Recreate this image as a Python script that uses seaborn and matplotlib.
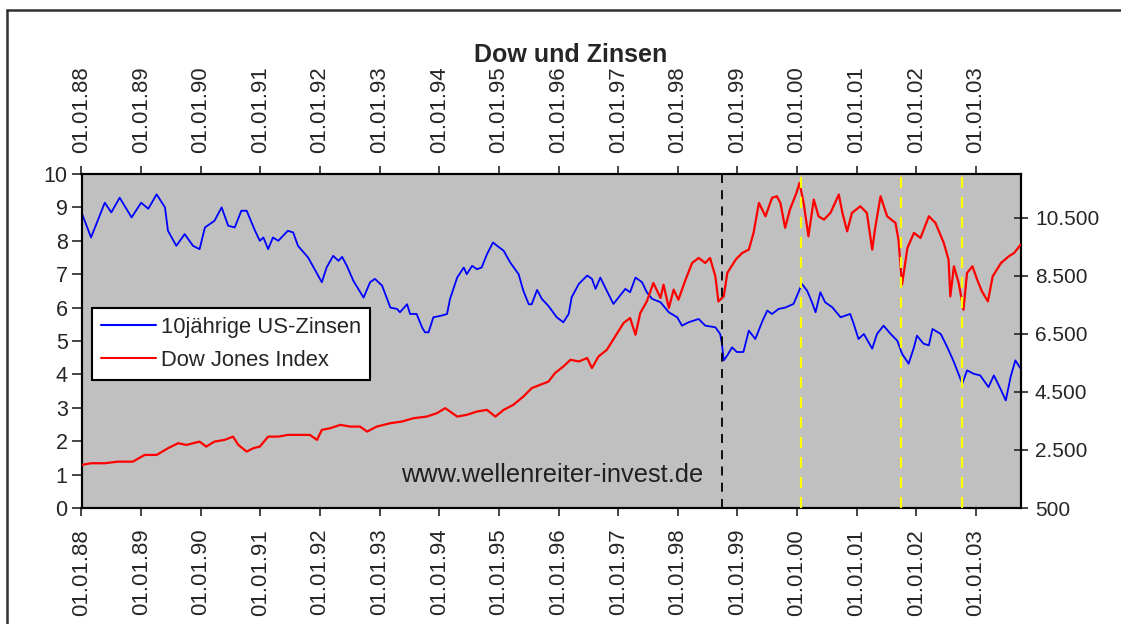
import matplotlib
matplotlib.use("Agg")
import matplotlib.pyplot as plt
from matplotlib.lines import Line2D
from matplotlib.ticker import FixedLocator, FuncFormatter
import seaborn as sns
import pandas as pd

# ---------------- data ----------------
zins_jahr = [
    1988.00, 1988.16, 1988.39, 1988.50, 1988.64, 1988.84,
    1989.00, 1989.12, 1989.26, 1989.40, 1989.45, 1989.59, 1989.73, 1989.87, 1989.98,
    1990.07, 1990.23, 1990.35, 1990.46, 1990.57, 1990.68, 1990.77, 1990.91, 1990.99,
    1991.05, 1991.13, 1991.21, 1991.30, 1991.46, 1991.55, 1991.63, 1991.80, 1991.94,
    1992.03, 1992.11, 1992.22, 1992.31, 1992.37, 1992.45, 1992.56, 1992.73, 1992.84, 1992.92,
    1993.04, 1993.18, 1993.29, 1993.34, 1993.46, 1993.51, 1993.62, 1993.71, 1993.76, 1993.82, 1993.90,
    1994.04, 1994.13, 1994.18, 1994.30, 1994.41, 1994.46, 1994.55, 1994.63, 1994.71, 1994.80, 1994.90, 1994.97,
    1995.08, 1995.19, 1995.33, 1995.41, 1995.50, 1995.55, 1995.64, 1995.72, 1995.83, 1995.97,
    1996.08, 1996.17, 1996.22, 1996.34, 1996.48, 1996.56, 1996.62, 1996.70, 1996.81, 1996.92,
    1997.01, 1997.12, 1997.20, 1997.29, 1997.40, 1997.48, 1997.57, 1997.71, 1997.85, 1997.99,
    1998.07, 1998.18, 1998.35, 1998.46, 1998.63, 1998.71, 1998.74, 1998.77, 1998.83, 1998.91, 1998.99,
    1999.10, 1999.19, 1999.30, 1999.41, 1999.50, 1999.58, 1999.69, 1999.80, 1999.94,
    2000.00, 2000.08, 2000.17, 2000.25, 2000.31, 2000.39, 2000.47, 2000.59, 2000.73, 2000.89, 2000.95,
    2001.03, 2001.12, 2001.26, 2001.34, 2001.45, 2001.57, 2001.68, 2001.76, 2001.87, 2001.96,
    2002.01, 2002.12, 2002.21, 2002.27, 2002.41, 2002.52, 2002.63, 2002.77, 2002.85, 2002.96,
    2003.07, 2003.21, 2003.30, 2003.41, 2003.50, 2003.58, 2003.66, 2003.75,
]
zins_wert = [
    8.85, 8.10, 9.14, 8.85, 9.29, 8.70,
    9.14, 8.96, 9.39, 9.00, 8.30, 7.85, 8.20, 7.85, 7.75,
    8.40, 8.60, 9.00, 8.45, 8.40, 8.90, 8.90, 8.30, 8.00,
    8.10, 7.75, 8.10, 8.00, 8.30, 8.25, 7.85, 7.50, 7.05,
    6.76, 7.20, 7.55, 7.40, 7.52, 7.25, 6.80, 6.30, 6.76, 6.86,
    6.66, 6.00, 5.96, 5.86, 6.10, 5.81, 5.81, 5.41, 5.26, 5.26, 5.71,
    5.76, 5.81, 6.26, 6.90, 7.20, 7.00, 7.25, 7.15, 7.20, 7.60, 7.95, 7.85,
    7.70, 7.35, 7.00, 6.50, 6.10, 6.10, 6.53, 6.26, 6.05, 5.71,
    5.56, 5.81, 6.31, 6.71, 6.96, 6.86, 6.56, 6.90, 6.50, 6.11,
    6.31, 6.56, 6.46, 6.90, 6.76, 6.46, 6.26, 6.16, 5.86, 5.71,
    5.46, 5.56, 5.66, 5.46, 5.41, 5.21, 4.92, 4.42, 4.57, 4.81, 4.67,
    4.67, 5.31, 5.06, 5.56, 5.91, 5.81, 5.96, 6.00, 6.11,
    6.36, 6.71, 6.50, 6.16, 5.86, 6.46, 6.16, 6.01, 5.71, 5.81, 5.51,
    5.06, 5.21, 4.77, 5.21, 5.46, 5.21, 5.01, 4.62, 4.32, 4.81,
    5.16, 4.92, 4.87, 5.36, 5.21, 4.81, 4.37, 3.72, 4.12, 4.02,
    3.97, 3.62, 3.97, 3.57, 3.22, 3.92, 4.42, 4.17,
]

dow_jahr = [
    1988.00, 1988.16, 1988.39, 1988.61, 1988.86,
    1989.06, 1989.26, 1989.45, 1989.62, 1989.76, 1989.98,
    1990.09, 1990.23, 1990.40, 1990.54, 1990.63, 1990.77, 1990.88, 1990.99,
    1991.13, 1991.30, 1991.46, 1991.69, 1991.83, 1991.95,
    1992.03, 1992.17, 1992.34, 1992.51, 1992.67, 1992.79, 1992.95,
    1993.18, 1993.37, 1993.57, 1993.79, 1993.96,
    1994.10, 1994.18, 1994.30, 1994.46, 1994.63, 1994.80, 1994.94,
    1995.08, 1995.24, 1995.41, 1995.55, 1995.69, 1995.83, 1995.94,
    1996.08, 1996.20, 1996.34, 1996.48, 1996.56, 1996.67, 1996.81, 1996.95,
    1997.09, 1997.20, 1997.29, 1997.37, 1997.48, 1997.59, 1997.71, 1997.76, 1997.85, 1997.93,
    1998.01, 1998.13, 1998.24, 1998.35, 1998.46, 1998.54, 1998.63, 1998.68, 1998.77, 1998.83, 1998.97,
    1999.08, 1999.19, 1999.27, 1999.36, 1999.47, 1999.58, 1999.66, 1999.72, 1999.80, 1999.88, 1999.99,
    2000.04, 2000.11, 2000.19, 2000.28, 2000.36, 2000.45, 2000.56, 2000.70, 2000.76, 2000.84, 2000.92,
    2001.06, 2001.17, 2001.26, 2001.31, 2001.40, 2001.51, 2001.65, 2001.70, 2001.76, 2001.85, 2001.96,
    2002.07, 2002.21, 2002.32, 2002.46, 2002.54, 2002.57, 2002.63, 2002.71, 2002.79, 2002.85, 2002.94,
    2003.02, 2003.10, 2003.20, 2003.28, 2003.42, 2003.55, 2003.64, 2003.75,
]
dow_wert = [
    1983, 2041, 2041, 2096, 2096,
    2327, 2327, 2558, 2731, 2672, 2786,
    2614, 2786, 2845, 2958, 2672, 2441, 2558, 2614,
    2958, 2958, 3017, 3017, 3017, 2845,
    3189, 3248, 3362, 3303, 3303, 3131, 3303,
    3420, 3476, 3593, 3648, 3765,
    3938, 3821, 3648, 3707, 3821, 3879, 3648,
    3879, 4051, 4338, 4627, 4741, 4850, 5145,
    5372, 5603, 5545, 5662, 5317, 5717, 5948, 6407,
    6869, 7041, 6465, 7213, 7613, 8248, 7731, 8189, 7386, 8017,
    7672, 8362, 8937, 9109, 8937, 9109, 8475, 7613, 7786, 8593, 9051,
    9282, 9396, 9971, 11006, 10544, 11179, 11234, 11006, 10144, 10775, 11351,
    11696, 11006, 9855, 11120, 10544, 10430, 10661, 11293, 10661, 10027, 10661,
    10889, 10661, 9396, 10144, 11234, 10544, 10316, 9741, 8189, 9455, 9971,
    9799, 10544, 10316, 9627, 9051, 7786, 8822, 8248, 7327, 8593, 8822,
    8362, 7958, 7613, 8475, 8937, 9166, 9282, 9568,
]

jahre = list(range(1988, 2004))
datum_labels = [f"01.01.{j % 100:02d}" for j in jahre]
zins_ticks = list(range(0, 11))
dow_ticks = [500, 2500, 4500, 6500, 8500, 10500]
markierung_schwarz = [1998.74]
markierungen_gelb = [2000.07, 2001.75, 2002.77]

titel = "Dow und Zinsen"
name_zins = "10jährige US-Zinsen"
name_dow = "Dow Jones Index"
wasserzeichen = "www.wellenreiter-invest.de"

# ---------------- plotting ----------------
sns.set_style("ticks")
plt.rcParams["font.family"] = ["Liberation Sans", "DejaVu Sans"]

W, H = 1121, 624
fig = plt.figure(figsize=(W / 100, H / 100), dpi=100, facecolor="white")
ax = fig.add_axes([81.5 / W, 1 - 508 / H, (1021 - 81.5) / W, (508 - 174) / H])
ax.set_facecolor("#C0C0C0")
ax2 = ax.twinx()

df_zins = pd.DataFrame({"jahr": zins_jahr, "wert": zins_wert})
df_dow = pd.DataFrame({"jahr": dow_jahr, "wert": dow_wert})

sns.lineplot(data=df_zins, x="jahr", y="wert", ax=ax, color="#0000FF",
             linewidth=1.3, label=name_zins, legend=False, zorder=3)
sns.lineplot(data=df_dow, x="jahr", y="wert", ax=ax2, color="#FF0000",
             linewidth=1.6, label=name_dow, legend=False, zorder=3)

ax.set_xlim(1988.0, 2003.755)
ax.set_ylim(0, 10)
ax2.set_ylim(500, 12000)

for xv in markierung_schwarz:
    ax2.axvline(xv, color="black", linestyle=(0, (5, 4)), linewidth=1.3, zorder=5)
for xv in markierungen_gelb:
    ax2.axvline(xv, color="#FFFF00", linestyle=(0, (5, 4)), linewidth=1.6, zorder=5)

ax.xaxis.set_major_locator(FixedLocator(jahre))
ax.set_xticklabels(datum_labels)
ax.tick_params(axis="x", which="both", bottom=True, top=True,
               labelbottom=True, labeltop=True, labelrotation=90,
               direction="out", length=6, width=1.2, labelsize=16, pad=9)
ax.yaxis.set_major_locator(FixedLocator(zins_ticks))
ax.tick_params(axis="y", direction="out", length=7, width=1.2, labelsize=15.5, pad=3)
ax2.yaxis.set_major_locator(FixedLocator(dow_ticks))
ax2.yaxis.set_major_formatter(FuncFormatter(lambda v, p: f"{int(v):,}".replace(",", ".")))
ax2.tick_params(axis="y", direction="inout", length=10, width=1.2, labelsize=15, pad=5)

ax.set_xlabel("")
ax.set_ylabel("")
ax2.set_ylabel("")
for a in (ax, ax2):
    for s in a.spines.values():
        s.set_color("black")
        s.set_linewidth(1.5)
        s.set_visible(True)

ax.text(0.501, 0.099, wasserzeichen, transform=ax.transAxes, ha="center",
        va="center", fontsize=18.3, color="#202020", zorder=6)

handles = [Line2D([], [], color="#0000FF", linewidth=1.5),
           Line2D([], [], color="#FF0000", linewidth=1.5)]
leg = ax2.legend(handles, [name_zins, name_dow], loc="upper left",
                 bbox_to_anchor=((92 - 81.5) / 939.5, (508 - 308) / 334),
                 borderaxespad=0, fontsize=15.8, frameon=True, fancybox=False,
                 framealpha=1, edgecolor="black", facecolor="white",
                 handlelength=2.5, handletextpad=0.25, labelspacing=0.55,
                 borderpad=0.4)
leg.get_frame().set_linewidth(1.5)
leg.set_zorder(10)

fig.text(571 / W, 1 - 55 / H, titel, ha="center", va="center",
         fontsize=18, fontweight="bold",
         family=["Liberation Sans Narrow", "Liberation Sans"])

# outer chart frame (Excel chart area border)
fig.add_artist(Line2D([7 / W, 7 / W], [0, 1 - 10 / H], color="#303030", linewidth=1.8))
fig.add_artist(Line2D([7 / W, 1], [1 - 10 / H, 1 - 10 / H], color="#303030", linewidth=1.8))

fig.savefig("out.png", dpi=100, facecolor="white")
